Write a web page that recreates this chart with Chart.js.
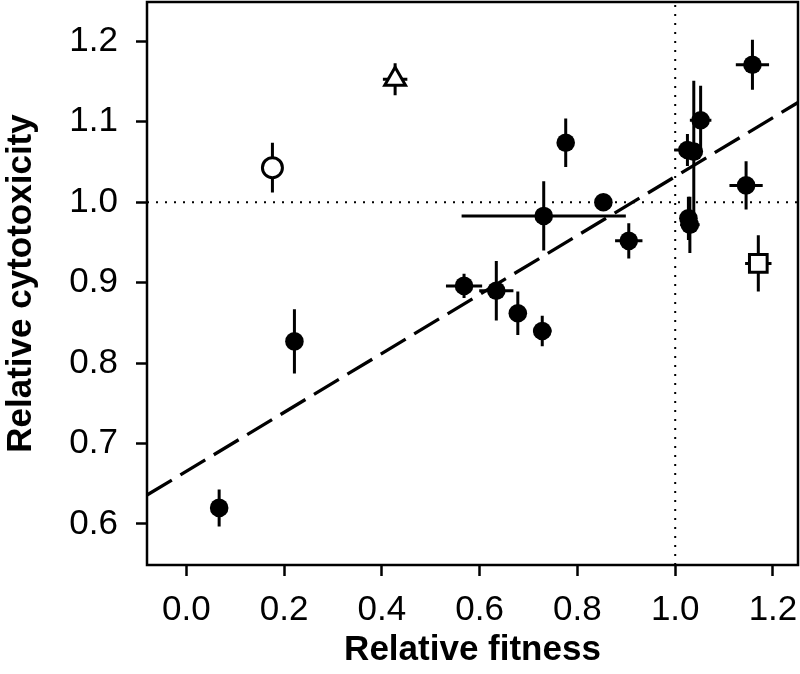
<!DOCTYPE html>
<html>
<head>
<meta charset="utf-8">
<script src="https://cdn.jsdelivr.net/npm/chart.js@4.4.1/dist/chart.umd.min.js"></script>
<style>
  body { margin: 0; background: #fff; }
  #wrap { width: 800px; height: 674px; }
</style>
</head>
<body>
<div id="wrap"><canvas id="fitChart" width="800" height="674"></canvas></div>
<script>
// axis ranges and ticks
const xRange = [-0.0806, 1.2512];
const yRange = [0.549, 1.249];
const xTicks = [0, 0.2, 0.4, 0.6, 0.8, 1.0, 1.2];
const yTicks = [0.6, 0.7, 0.8, 0.9, 1.0, 1.1, 1.2];

// filled points: relative fitness vs relative cytotoxicity
const fitness    = [0.067, 0.221, 0.568, 0.634, 0.678, 0.728, 0.731, 0.776, 0.853, 0.905, 1.025, 1.038, 1.052, 1.027, 1.030, 1.145, 1.158];
const cytotox    = [0.620, 0.827, 0.896, 0.890, 0.862, 0.840, 0.983, 1.074, 1.000, 0.952, 1.065, 1.063, 1.102, 0.980, 0.972, 1.021, 1.171];
const fitnessErr = [0.016, 0.004, 0.037, 0.035, 0.018, 0.019, 0.168, 0.010, 0.014, 0.028, 0.027, 0.010, 0.022, 0.010, 0.020, 0.034, 0.034];
const cytotoxErr = [0.023, 0.040, 0.015, 0.037, 0.027, 0.019, 0.043, 0.030, 0.010, 0.022, 0.020, 0.088, 0.043, 0.027, 0.035, 0.030, 0.031];

// reference strains: open circle, open triangle, open square
const refFitness    = [0.176, 0.427, 1.170];
const refCytotox    = [1.043, 1.153, 0.924];
const refFitnessErr = [0.005, 0.025, 0.027];
const refCytotoxErr = [0.031, 0.020, 0.035];

// dashed fit line end points
const fitLineX = [-0.0806, 1.2512];
const fitLineY = [0.636, 1.124];

const toPts = (xs, ys) => xs.map((x, i) => ({ x: x, y: ys[i] }));

// error bars drawn under the markers
const errorBars = {
    id: 'errorBars',
    beforeDatasetsDraw(chart) {
        const { ctx, scales: { x, y } } = chart;
        ctx.save();
        ctx.strokeStyle = '#000';
        ctx.lineWidth = 3;
        ctx.lineCap = 'butt';
        chart.data.datasets.forEach((ds) => {
            if (!ds.errX) return;
            ds.data.forEach((p, i) => {
                const px = x.getPixelForValue(p.x);
                const py = y.getPixelForValue(p.y);
                ctx.beginPath();
                ctx.moveTo(x.getPixelForValue(p.x - ds.errX[i]), py);
                ctx.lineTo(x.getPixelForValue(p.x + ds.errX[i]), py);
                ctx.moveTo(px, y.getPixelForValue(p.y - ds.errY[i]));
                ctx.lineTo(px, y.getPixelForValue(p.y + ds.errY[i]));
                ctx.stroke();
            });
        });
        ctx.restore();
    }
};

// box around the plot
const frame = {
    id: 'frame',
    afterDraw(chart) {
        const { ctx, chartArea: a } = chart;
        ctx.save();
        ctx.strokeStyle = '#000';
        ctx.lineWidth = 2.5;
        ctx.strokeRect(a.left, a.top, a.right - a.left, a.bottom - a.top);
        ctx.restore();
    }
};

const refDataset = (i, style, radius) => ({
    type: 'scatter',
    data: [{ x: refFitness[i], y: refCytotox[i] }],
    errX: [refFitnessErr[i]],
    errY: [refCytotoxErr[i]],
    pointStyle: style,
    pointRadius: radius,
    backgroundColor: '#fff',
    borderColor: '#000',
    borderWidth: 3,
});

const ctx = document.getElementById('fitChart').getContext('2d');
const tickFont = { family: 'Liberation Sans', size: 35 };
const titleFont = { family: 'Liberation Sans', size: 35, weight: 'bold' };

new Chart(ctx, {
    type: 'scatter',
    data: {
        datasets: [
            {
                type: 'line',
                data: [{ x: 1, y: yRange[0] }, { x: 1, y: yRange[1] }],
                borderColor: '#000', borderWidth: 2, borderDash: [2, 7], pointRadius: 0,
            },
            {
                type: 'line',
                data: [{ x: xRange[0], y: 1 }, { x: xRange[1], y: 1 }],
                borderColor: '#000', borderWidth: 2, borderDash: [2, 7], pointRadius: 0,
            },
            {
                type: 'line',
                data: toPts(fitLineX, fitLineY),
                borderColor: '#000', borderWidth: 3.3, borderDash: [29, 10], pointRadius: 0,
            },
            {
                data: toPts(fitness, cytotox),
                errX: fitnessErr,
                errY: cytotoxErr,
                pointStyle: 'circle',
                pointRadius: 9.3,
                backgroundColor: '#000',
                borderColor: '#000',
                borderWidth: 0,
            },
            refDataset(0, 'circle', 10),
            refDataset(1, 'triangle', 12),
            refDataset(2, 'rect', 12.5),
        ]
    },
    options: {
        responsive: false,
        animation: false,
        events: [],
        layout: { autoPadding: false, padding: { top: 2, right: 2, left: 0, bottom: 0 } },
        plugins: { legend: { display: false }, tooltip: { enabled: false } },
        scales: {
            x: {
                type: 'linear',
                min: xRange[0],
                max: xRange[1],
                afterBuildTicks: (axis) => { axis.ticks = xTicks.map(v => ({ value: v })); },
                afterFit: (axis) => {
                    axis.height = 109;
                    axis.paddingLeft = 0;
                    axis.paddingRight = 0;
                },
                border: { display: false },
                grid: { display: true, drawOnChartArea: false, drawTicks: true, tickLength: 11, tickWidth: 2.5, tickColor: '#000' },
                ticks: { color: '#000', font: tickFont, padding: 13, maxRotation: 0, callback: (v) => v.toFixed(1) },
                title: { display: true, text: 'Relative fitness', color: '#000', font: titleFont, padding: { top: 0, bottom: 3 } },
            },
            y: {
                type: 'linear',
                min: yRange[0],
                max: yRange[1],
                afterBuildTicks: (axis) => { axis.ticks = yTicks.map(v => ({ value: v })); },
                afterFit: (axis) => {
                    axis.width = 147;
                    axis.paddingTop = 0;
                    axis.paddingBottom = 0;
                },
                border: { display: false },
                grid: { display: true, drawOnChartArea: false, drawTicks: true, tickLength: 11, tickWidth: 2.5, tickColor: '#000' },
                ticks: { color: '#000', font: tickFont, padding: 18, callback: (v) => v.toFixed(1) },
                title: { display: true, text: 'Relative cytotoxicity', color: '#000', font: titleFont, padding: { top: 0, bottom: 0 } },
            }
        }
    },
    plugins: [errorBars, frame]
});
</script>
</body>
</html>
